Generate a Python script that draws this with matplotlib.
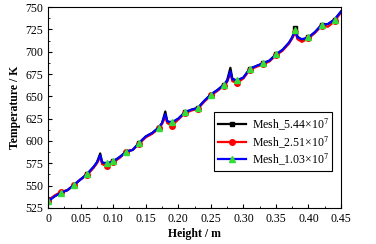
import numpy as np
import matplotlib
matplotlib.use("Agg")
from matplotlib import pyplot as plt
from matplotlib.ticker import MultipleLocator

plt.rcParams['font.family'] = ['Liberation Serif', 'DejaVu Serif']
plt.rcParams['mathtext.fontset'] = 'stix'

# height along the channel (m)
height = [0, 0.005, 0.01, 0.02, 0.03, 0.04, 0.05, 0.06, 0.07, 0.075,
          0.08, 0.083, 0.09, 0.10, 0.11, 0.12, 0.13, 0.14, 0.15, 0.16,
          0.17, 0.175, 0.18, 0.183, 0.19, 0.20, 0.21, 0.22, 0.23, 0.24,
          0.25, 0.26, 0.27, 0.275, 0.28, 0.283, 0.29, 0.30, 0.31, 0.32,
          0.33, 0.34, 0.35, 0.36, 0.37, 0.375, 0.38, 0.383, 0.39, 0.40,
          0.41, 0.42, 0.43, 0.44, 0.45]

# temperature for each mesh (K)
t_544 = [533, 536, 538, 542, 545, 551, 557, 563, 571, 576,
         586, 576, 574, 577, 582, 588, 590, 598, 605, 609,
         615, 620, 633, 622, 620, 625, 632, 635, 637, 645,
         652, 657, 663, 668, 682, 670, 667, 671, 681, 684,
         687, 690, 697, 702, 710, 716, 726, 717, 713, 716,
         722, 730, 731, 736, 745]
t_251 = [533, 536, 539, 543, 545, 551, 557, 562, 570, 575,
         582, 574, 572, 576, 581, 588, 590, 597, 604, 608,
         614, 619, 627, 620, 617, 624, 631, 634, 636, 644,
         651, 656, 662, 666, 676, 667, 665, 670, 680, 683,
         686, 689, 696, 701, 709, 715, 722, 714, 711, 715,
         721, 729, 728, 734, 744]
t_103 = [533, 535, 538, 542, 545, 551, 557, 563, 571, 576,
         584, 576, 575, 577, 582, 588, 590, 598, 605, 609,
         615, 620, 630, 622, 621, 625, 632, 635, 637, 645,
         652, 657, 663, 667, 678, 669, 668, 671, 681, 684,
         687, 690, 697, 702, 710, 716, 724, 716, 714, 716,
         722, 730, 731, 736, 745]

# which samples carry a marker
mark_idx = [0, 3, 5, 7, 12, 13, 15, 17, 20, 24, 26, 28, 30, 32, 36, 38,
            40, 42, 46, 49, 51, 53]

fig = plt.figure(figsize=(3.76, 2.44), dpi=100)
ax = fig.add_axes([0.128, 0.148, 0.779, 0.823])

ax.plot(height, t_544, color='black', marker='s', markersize=3.5, lw=1.6,
        markevery=mark_idx, label='Mesh_5.44×10$^{7}$')
ax.plot(height, t_251, color='red', marker='o', markersize=4, lw=1.6,
        markevery=mark_idx, label='Mesh_2.51×10$^{7}$')
ax.plot(height, t_103, color='blue', marker='^', markersize=5, lw=1.6,
        markerfacecolor='#33dd33', markeredgecolor='#33dd33',
        markevery=mark_idx, label='Mesh_1.03×10$^{7}$')

ax.set_xlim(0, 0.45)
ax.set_ylim(525, 750)
ax.set_xticks(np.arange(0, 0.451, 0.05))
ax.set_xticklabels(['0'] + ['%.2f' % v for v in np.arange(0.05, 0.451, 0.05)])
ax.xaxis.set_minor_locator(MultipleLocator(0.025))
ax.yaxis.set_major_locator(MultipleLocator(25))
ax.yaxis.set_minor_locator(MultipleLocator(12.5))
ax.tick_params(which='both', direction='in', labelsize=8.5, top=False, right=False)
ax.tick_params(which='major', length=3)
ax.tick_params(which='minor', length=1.5)

ax.set_xlabel('Height / m', fontsize=8.5, fontweight='bold', labelpad=2)
ax.set_ylabel('Temperature / K', fontsize=8.5, fontweight='bold', labelpad=3)

leg = ax.legend(loc='lower right', bbox_to_anchor=(0.97, 0.185), borderaxespad=0,
                fontsize=8.5, fancybox=False, edgecolor='black', framealpha=1,
                handlelength=2.4, borderpad=0.3, labelspacing=0.15, handletextpad=0.5)
leg.get_frame().set_linewidth(0.8)

fig.savefig('out.png', dpi=100)
